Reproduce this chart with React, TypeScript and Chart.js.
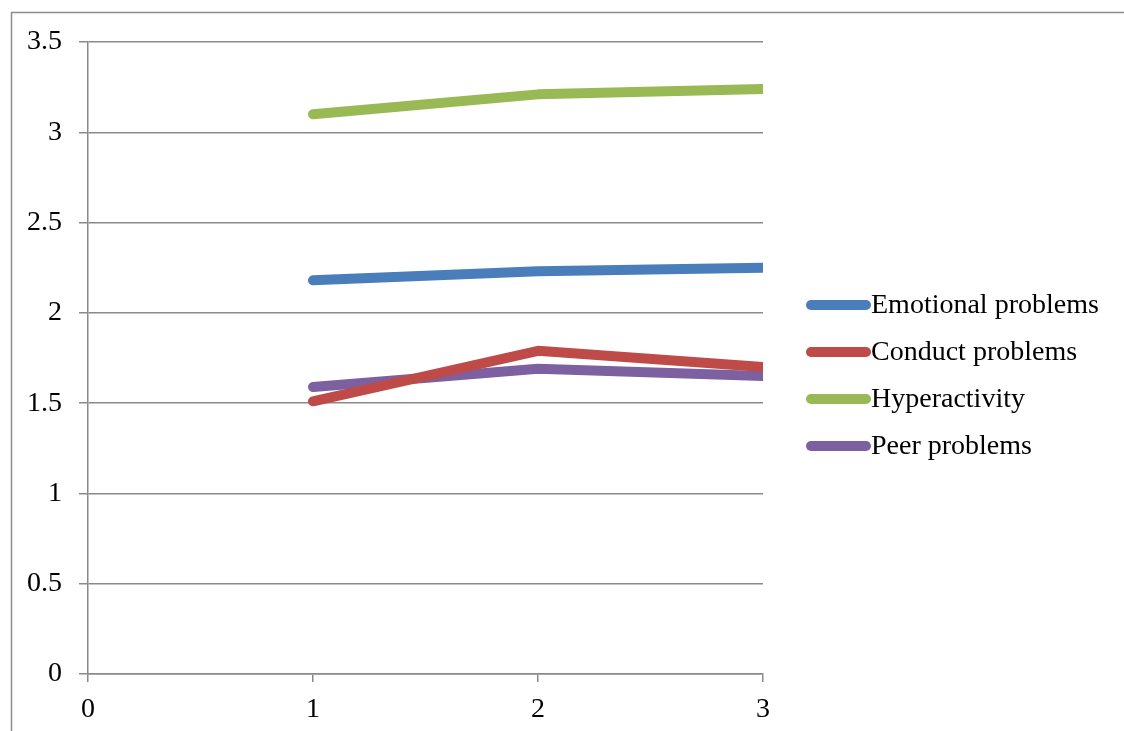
import React, { useEffect, useRef } from "react";
import { Chart, registerables } from "chart.js";

Chart.register(...registerables);

// Measurement occasions on the x axis
const occasions = [1, 2, 3];

// Mean subscale scores per occasion
const emotionalProblems = [2.18, 2.23, 2.25];
const conductProblems = [1.51, 1.79, 1.7];
const hyperactivity = [3.1, 3.21, 3.24];
const peerProblems = [1.59, 1.69, 1.65];

const seriesNames = ["Emotional problems", "Conduct problems", "Hyperactivity", "Peer problems"];
const seriesColors = ["#4A7EBB", "#BE4B48", "#98B954", "#7D60A0"];

const FONT = "'Liberation Serif', 'DejaVu Serif', serif";
const FONT_SIZE = 28;
const GRID = "#8a8a8a";
const LINE_WIDTH = 10;

const toPoints = (ys: number[]) => occasions.map((x, i) => ({ x, y: ys[i] }));

// Frame around the chart and a right-hand legend drawn from the datasets
const framePlugin = {
  id: "frame",
  beforeDraw(chart: any) {
    const ctx = chart.ctx;
    ctx.save();
    ctx.strokeStyle = "#8c8c8c";
    ctx.lineWidth = 1.5;
    ctx.beginPath();
    ctx.moveTo(11.5, chart.height + 5);
    ctx.lineTo(11.5, 12.5);
    ctx.lineTo(chart.width + 5, 12.5);
    ctx.stroke();
    ctx.restore();
  },
};

const sideLegend = {
  id: "sideLegend",
  afterDraw(chart: any) {
    const ctx = chart.ctx;
    const area = chart.chartArea;
    const x0 = area.right + 48;
    const x1 = x0 + 55;
    const yStart = 305;
    const step = 47;
    ctx.save();
    ctx.font = `${FONT_SIZE}px ${FONT}`;
    ctx.textBaseline = "middle";
    ctx.textAlign = "left";
    chart.data.datasets.forEach((ds: any, i: number) => {
      const y = yStart + i * step;
      ctx.strokeStyle = ds.borderColor;
      ctx.lineWidth = LINE_WIDTH;
      ctx.lineCap = "round";
      ctx.beginPath();
      ctx.moveTo(x0, y);
      ctx.lineTo(x1, y);
      ctx.stroke();
      ctx.fillStyle = "#000";
      ctx.fillText(ds.label, x1 + 5, y + 1);
    });
    ctx.restore();
  },
};

export default function App() {
  const canvasRef = useRef<HTMLCanvasElement | null>(null);

  useEffect(() => {
    if (!canvasRef.current) return;
    const seriesValues = [emotionalProblems, conductProblems, hyperactivity, peerProblems];
    const chart = new Chart(canvasRef.current, {
      type: "line",
      data: {
        datasets: seriesValues.map((vals, i) => ({
          label: seriesNames[i],
          data: toPoints(vals),
          borderColor: seriesColors[i],
          backgroundColor: seriesColors[i],
          borderWidth: LINE_WIDTH,
          borderCapStyle: "round",
          borderJoinStyle: "round",
          pointRadius: 0,
          pointHoverRadius: 0,
          tension: 0,
          fill: false,
          clip: 0,
        })),
      },
      options: {
        animation: false,
        responsive: true,
        maintainAspectRatio: false,
        layout: { padding: { top: 42, right: 361, bottom: 0, left: 0 } },
        plugins: {
          legend: { display: false },
          tooltip: { enabled: false },
        },
        scales: {
          x: {
            type: "linear",
            min: 0,
            max: 3,
            ticks: {
              stepSize: 1,
              padding: 11,
              color: "#000",
              font: { family: FONT, size: FONT_SIZE },
              maxRotation: 0,
              callback: (v: any) => String(v),
            },
            grid: {
              drawOnChartArea: false,
              drawTicks: true,
              tickLength: 8,
              color: GRID,
              lineWidth: 1.5,
            },
            border: { display: true, color: GRID, width: 1.5 },
            afterFit(scale: any) {
              scale.height = 731 - 674;
            },
          },
          y: {
            type: "linear",
            min: 0,
            max: 3.5,
            ticks: {
              stepSize: 0.5,
              padding: 17,
              color: "#000",
              font: { family: FONT, size: FONT_SIZE },
              callback: (v: any) => String(v),
            },
            grid: {
              drawTicks: true,
              tickLength: 9,
              color: GRID,
              lineWidth: 1.5,
            },
            border: { display: true, color: GRID, width: 1.5 },
            afterFit(scale: any) {
              scale.width = 88;
            },
          },
        },
      },
      plugins: [framePlugin, sideLegend],
    } as any);
    return () => chart.destroy();
  }, []);

  return (
    <div style={{ position: "fixed", left: 0, top: 0, width: 1124, height: 731, background: "#fff" }}>
      <canvas ref={canvasRef} />
    </div>
  );
}
